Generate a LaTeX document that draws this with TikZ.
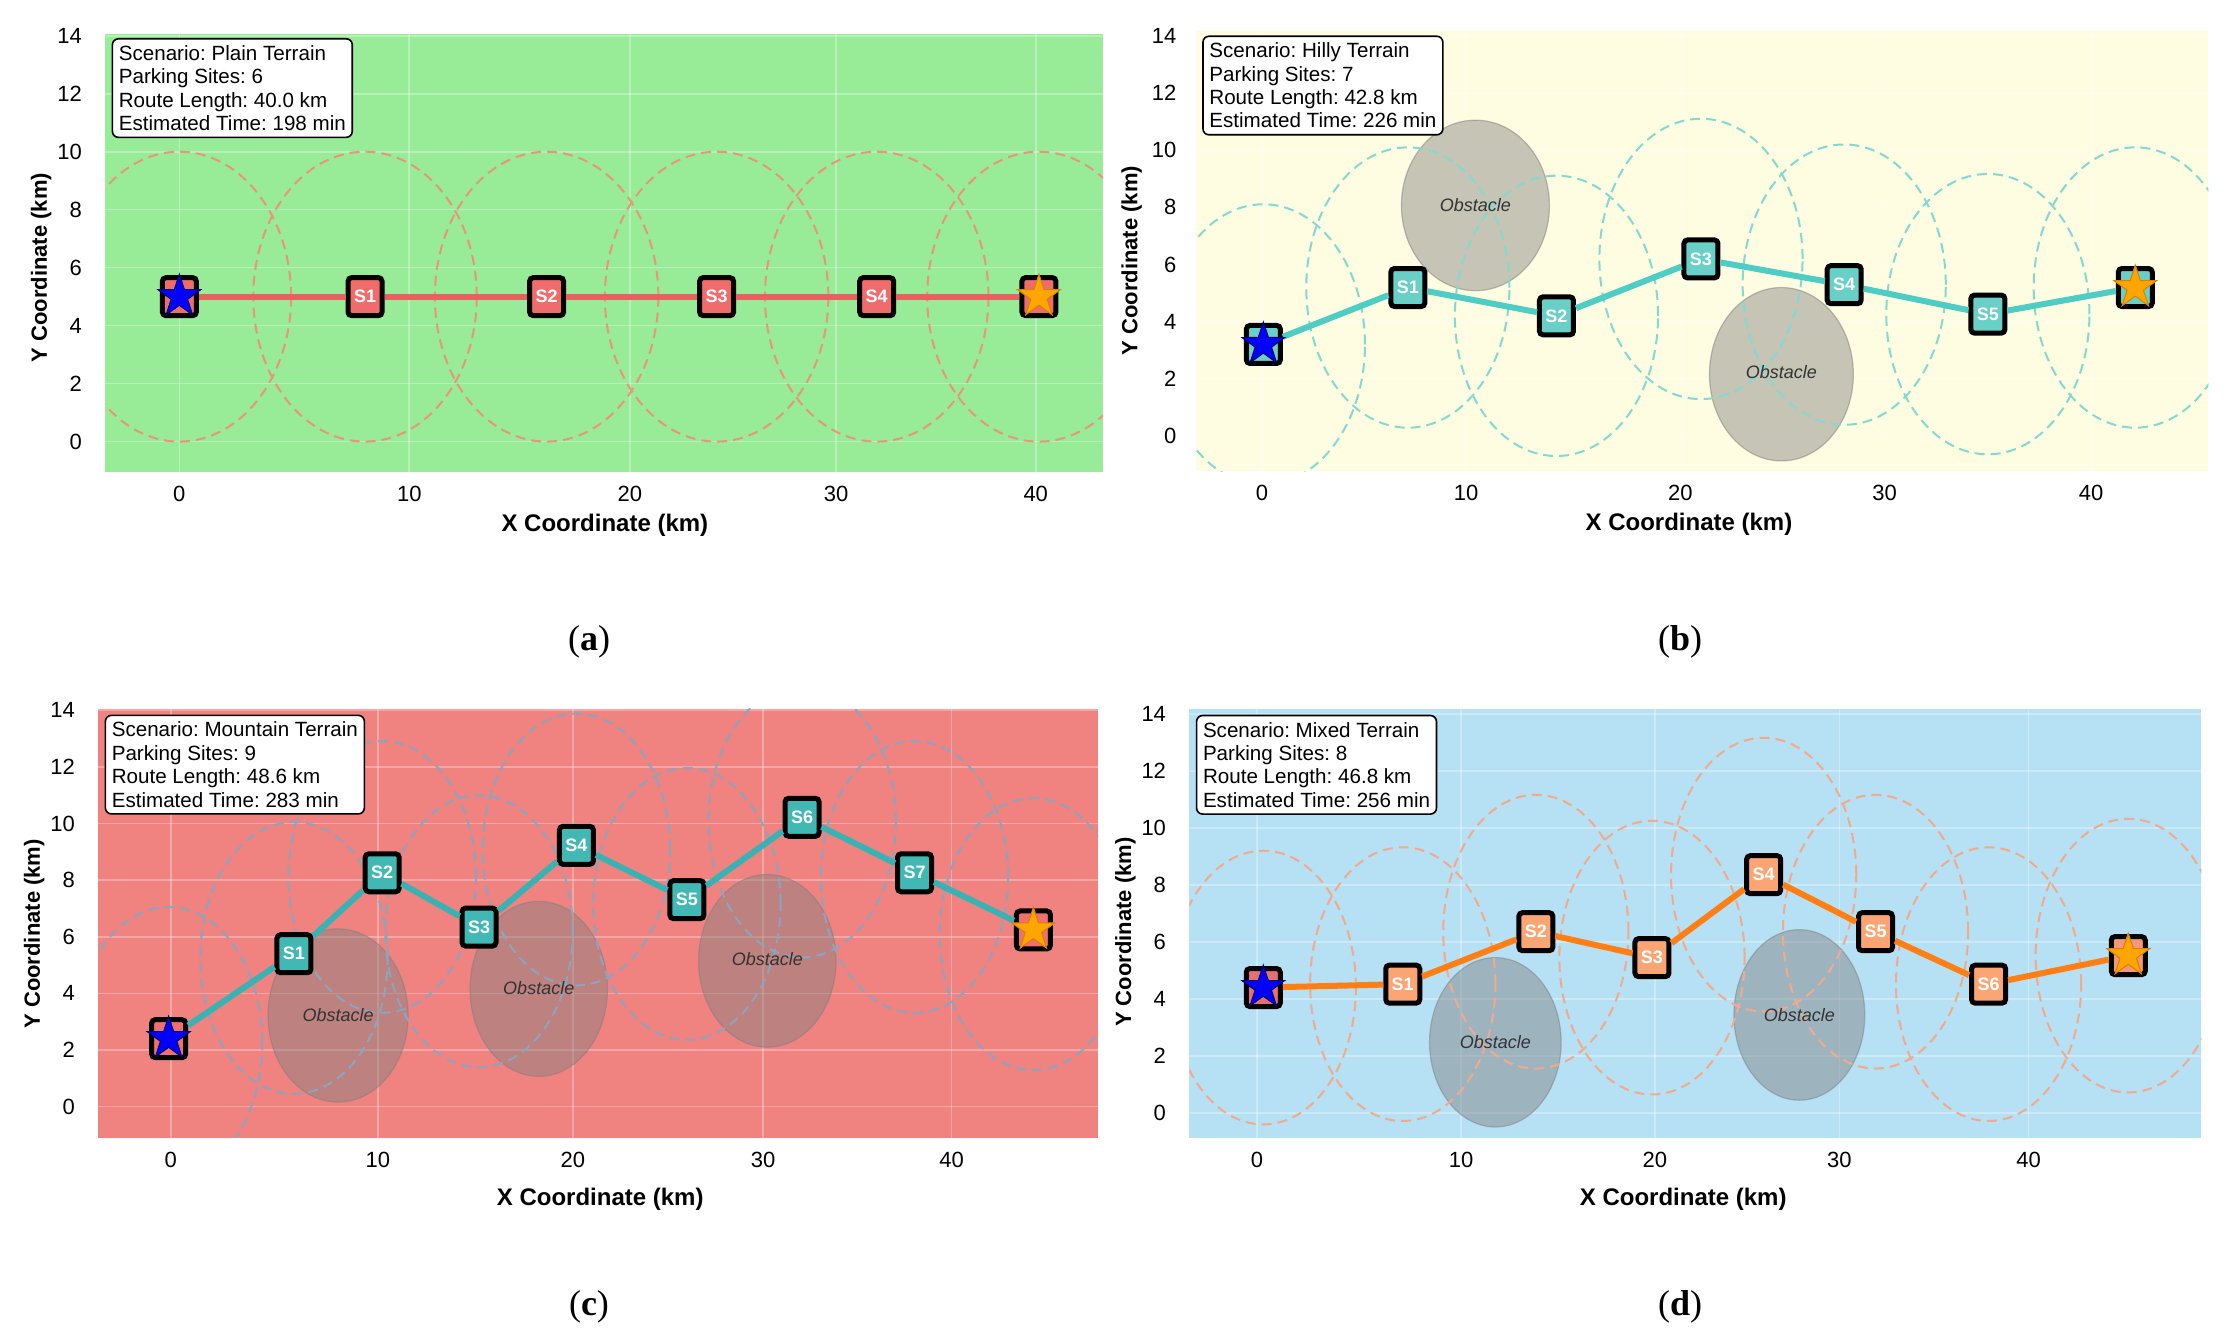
\documentclass[tikz,border=0pt]{standalone}
\usepackage{fontspec}
\setmainfont{Liberation Sans}
\newfontfamily\captionserif{Liberation Serif}
\usetikzlibrary{shapes.geometric}
\frenchspacing

\definecolor{bgPlain}{RGB}{152,236,152}
\definecolor{bgHilly}{RGB}{255,253,225}
\definecolor{bgMountain}{RGB}{240,130,128}
\definecolor{bgMixed}{RGB}{182,224,244}
\definecolor{routePlain}{RGB}{232,96,96}
\definecolor{routeHilly}{RGB}{78,205,196}
\definecolor{routeMountain}{RGB}{56,178,178}
\definecolor{routeMixed}{RGB}{255,127,20}
\definecolor{boxPlain}{RGB}{240,108,108}
\definecolor{boxHilly}{RGB}{104,208,198}
\definecolor{boxMountain}{RGB}{66,184,180}
\definecolor{boxMixed}{RGB}{250,165,115}
\definecolor{ringPlain}{RGB}{232,150,120}
\definecolor{ringHilly}{RGB}{130,218,208}
\definecolor{ringMountain}{RGB}{140,165,190}
\definecolor{ringMixed}{RGB}{242,170,140}
\definecolor{endBoxMountain}{RGB}{240,112,112}
\definecolor{startBoxMixed}{RGB}{230,112,112}
\definecolor{endBoxMixed}{RGB}{245,150,120}
\definecolor{starOrange}{RGB}{255,165,0}
\definecolor{starOrangeEdge}{RGB}{215,130,0}

\tikzset{every picture/.style={line width=0.75pt},
  gridline/.style={draw=white, line width=0.8pt, opacity=0.3},
  rangering/.style={dash pattern=on 5pt off 3pt, line width=1pt},
  obstacle/.style={fill=gray, fill opacity=0.45, draw=gray, draw opacity=0.5, line width=0.6pt},
  obstaclelabel/.style={font=\fontsize{9}{10}\selectfont\itshape, text=black!80},
  site/.style={draw=black, line width=2.5pt, rounded corners=1.8pt, minimum width=17pt, minimum height=19pt, inner sep=0pt, text=white, font=\fontsize{9}{10}\selectfont\bfseries},
  route/.style={line width=3pt, line join=round},
  startstar/.style={star, star points=5, star point ratio=2.6, minimum size=22.5pt, inner sep=0pt, fill=blue, draw=black!60!blue, line width=0.5pt},
  endstar/.style={star, star points=5, star point ratio=2.6, minimum size=22.5pt, inner sep=0pt, fill=starOrange, draw=starOrangeEdge, line width=0.5pt},
  infobox/.style={draw=black, fill=white, rounded corners=3pt, line width=0.8pt, align=left, inner xsep=3.2pt, inner ysep=3.3pt, anchor=north west, xshift=3.2pt, yshift=-2pt, font=\fontsize{10.3}{11.7}\selectfont},
  xtick/.style={font=\fontsize{11}{12}\selectfont, yshift=-11pt},
  ytick/.style={font=\fontsize{11}{12}\selectfont, anchor=east, xshift=-8pt},
  xaxislabel/.style={font=\fontsize{12}{13}\selectfont\bfseries, yshift=-26.5pt},
  yaxislabel/.style={font=\fontsize{11}{12}\selectfont\bfseries, xshift=-32pt, rotate=90},
  panellabel/.style={font=\captionserif\fontsize{18}{20}\selectfont}
}

\begin{document}
\begin{tikzpicture}[x=0.5pt,y=-0.5pt]
	\useasboundingbox (0,0) rectangle (2232,1343);
	\fill[white] (0,0) rectangle (2232,1343);

	%Panel (a): plain terrain
	\begin{scope}[shift={(89.675pt,-220.8pt)}, x=10.745pt, y=14.495pt]
		\fill[bgPlain] (-3.45,-1.05) rectangle (42.98,14.06);
		\foreach \n/\x in {0/0, 1/8.64, 2/17.09, 3/25.0, 4/32.45, 5/40.0}
			\coordinate (a\n) at (\x,5);
		\begin{scope}
			\clip (-3.45,-1.05) rectangle (42.98,14.06);
			\foreach \p in {0,10.7,20.96,30.56,39.85}
				\draw[gridline] (\p,-1.05) -- (\p,14.06);
			\foreach \v in {0,2,...,14}
				\draw[gridline] (-3.45,\v) -- (42.98,\v);
			\foreach \n in {0,...,5}
				\draw[rangering, ringPlain] (a\n) ellipse [x radius=5.2, y radius=5];
		\end{scope}
		% sites and route
		\node[site, fill=boxPlain] (sa0) at (a0) {};
		\foreach \n in {1,...,4}
			\node[site, fill=boxPlain] (sa\n) at (a\n) {S\n};
		\node[site, fill=boxPlain] (sa5) at (a5) {};
		\draw[route, routePlain] (sa0) -- (sa1) -- (sa2) -- (sa3) -- (sa4) -- (sa5);
		\node[startstar] (starta) at (sa0.center) {};
		\node[endstar] (enda) at (sa5.center) {};
		% axes
		\foreach \v/\p in {0/0, 10/10.7, 20/20.96, 30/30.56, 40/39.85}
			\node[xtick] (xta\v) at (\p,-1.05) {\v};
		\foreach \v in {0,2,...,14}
			\node[ytick] (yta\v) at (-3.45,\v) {\v};
		\node[xaxislabel] (xla) at (19.8,-1.05) {X Coordinate (km)};
		\node[yaxislabel] (yla) at (-3.45,6) {Y Coordinate (km)};
		% Text Node
		\node[infobox] (infoa) at (-3.45,14.06) {Scenario: Plain Terrain\\Parking Sites: 6\\Route Length: 40.0 km\\Estimated Time: 198 min};
	\end{scope}

	%Panel (b): hilly terrain
	\begin{scope}[shift={(630.95pt,-218.15pt)}, x=10.365pt, y=14.305pt]
		\fill[bgHilly] (-3.19,-1.22) rectangle (45.66,14.15);
		\foreach \n/\x/\y in {0/0.07/3.21, 1/7.04/5.20, 2/14.21/4.21, 3/21.18/6.20, 4/28.09/5.30, 5/35.02/4.27, 6/42.13/5.20}
			\coordinate (b\n) at (\x,\y);
		\begin{scope}
			\clip (-3.19,-1.22) rectangle (45.66,14.15);
			\foreach \p in {0,9.85,20.19,30.04,40}
				\draw[gridline] (\p,-1.22) -- (\p,14.15);
			\foreach \v in {0,2,...,14}
				\draw[gridline] (-3.19,\v) -- (45.66,\v);
			\draw[obstacle] (10.30,8.07) ellipse [x radius=3.57, y radius=2.98];
			\draw[obstacle] (25.06,2.17) ellipse [x radius=3.47, y radius=3.03];
			\foreach \n in {0,...,6}
				\draw[rangering, ringHilly] (b\n) ellipse [x radius=4.9, y radius=4.9];
			\node[obstaclelabel] (obb1) at (10.30,8.07) {Obstacle};
			\node[obstaclelabel] (obb2) at (25.06,2.25) {Obstacle};
		\end{scope}
		% sites and route
		\node[site, fill=boxHilly] (sb0) at (b0) {};
		\foreach \n in {1,...,5}
			\node[site, fill=boxHilly] (sb\n) at (b\n) {S\n};
		\node[site, fill=boxHilly] (sb6) at (b6) {};
		\draw[route, routeHilly] (sb0) -- (sb1) -- (sb2) -- (sb3) -- (sb4) -- (sb5) -- (sb6);
		\node[startstar] (startb) at (sb0.center) {};
		\node[endstar] (endb) at (sb6.center) {};
		% axes
		\foreach \v/\p in {0/0, 10/9.85, 20/20.19, 30/30.04, 40/40}
			\node[xtick] (xtb\v) at (\p,-1.22) {\v};
		\foreach \v in {0,2,...,14}
			\node[ytick, xshift=2pt] (ytb\v) at (-3.19,\v) {\v};
		\node[xaxislabel] (xlb) at (20.6,-1.22) {X Coordinate (km)};
		\node[yaxislabel, xshift=2pt] (ylb) at (-3.19,6) {Y Coordinate (km)};
		% Text Node
		\node[infobox] (infob) at (-3.19,14.15) {Scenario: Hilly Terrain\\Parking Sites: 7\\Route Length: 42.8 km\\Estimated Time: 226 min};
	\end{scope}

	%Panel (c): mountain terrain
	\begin{scope}[shift={(85.4pt,-553.3pt)}, x=9.76pt, y=14.155pt]
		\fill[bgMountain] (-3.72,-1.10) rectangle (47.51,14.06);
		\foreach \n/\x/\y in {0/-0.11/2.40, 1/6.31/5.40, 2/10.83/8.26, 3/15.79/6.34, 4/20.78/9.23, 5/26.44/7.31, 6/32.34/10.22, 7/38.1/8.26, 8/44.19/6.24}
			\coordinate (c\n) at (\x,\y);
		\begin{scope}
			\clip (-3.72,-1.10) rectangle (47.51,14.06);
			\foreach \p in {0,10.61,20.6,30.34,40}
				\draw[gridline] (\p,-1.10) -- (\p,14.06);
			\foreach \v in {0,2,...,14}
				\draw[gridline] (-3.72,\v) -- (47.51,\v);
			\draw[obstacle] (8.57,3.22) ellipse [x radius=3.59, y radius=3.06];
			\draw[obstacle] (18.85,4.16) ellipse [x radius=3.52, y radius=3.09];
			\draw[obstacle] (30.56,5.15) ellipse [x radius=3.52, y radius=3.05];
			\foreach \n in {0,...,8}
				\draw[rangering, ringMountain] ([yshift=-2.1pt]c\n) ellipse [x radius=4.8, y radius=4.8];
			\node[obstaclelabel] (obc1) at (8.57,3.22) {Obstacle};
			\node[obstaclelabel] (obc2) at (18.85,4.2) {Obstacle};
			\node[obstaclelabel] (obc3) at (30.56,5.2) {Obstacle};
		\end{scope}
		% sites and route
		\node[site, fill=endBoxMountain] (sc0) at (c0) {};
		\foreach \n in {1,...,7}
			\node[site, fill=boxMountain] (sc\n) at (c\n) {S\n};
		\node[site, fill=endBoxMountain] (sc8) at (c8) {};
		\draw[route, routeMountain] (sc0) -- (sc1) -- (sc2) -- (sc3) -- (sc4) -- (sc5) -- (sc6) -- (sc7) -- (sc8);
		\node[startstar] (startc) at (sc0.center) {};
		\node[endstar] (endc) at (sc8.center) {};
		% axes
		\foreach \v/\p in {0/0, 10/10.61, 20/20.6, 30/30.34, 40/40}
			\node[xtick] (xtc\v) at (\p,-1.10) {\v};
		\foreach \v in {0,2,...,14}
			\node[ytick] (ytc\v) at (-3.72,\v) {\v};
		\node[xaxislabel, yshift=-4.3pt] (xlc) at (22.0,-1.10) {X Coordinate (km)};
		\node[yaxislabel] (ylc) at (-3.72,6.1) {Y Coordinate (km)};
		% Text Node
		\node[infobox, yshift=-1pt] (infoc) at (-3.72,14.06) {Scenario: Mountain Terrain\\Parking Sites: 9\\Route Length: 48.6 km\\Estimated Time: 283 min};
	\end{scope}

	%Panel (d): mixed terrain
	\begin{scope}[shift={(628.45pt,-556.5pt)}, x=9.645pt, y=14.255pt]
		\fill[bgMixed] (-3.50,-0.88) rectangle (48.96,14.18);
		\foreach \n/\x/\y in {0/0.33/4.40, 1/7.56/4.52, 2/14.46/6.36, 3/20.48/5.45, 4/26.27/8.36, 5/32.07/6.36, 6/37.93/4.52, 7/45.17/5.52}
			\coordinate (d\n) at (\x,\y);
		\begin{scope}
			\clip (-3.50,-0.88) rectangle (48.96,14.18);
			\foreach \p in {0,10.59,20.63,30.2,40}
				\draw[gridline] (\p,-0.88) -- (\p,14.18);
			\foreach \v in {0,2,...,14}
				\draw[gridline] (-3.50,\v) -- (48.96,\v);
			\draw[obstacle] (12.36,2.48) ellipse [x radius=3.41, y radius=2.97];
			\draw[obstacle] (28.12,3.44) ellipse [x radius=3.39, y radius=2.99];
			\foreach \n in {0,...,7}
				\draw[rangering, ringMixed] (d\n) ellipse [x radius=4.8, y radius=4.8];
			\node[obstaclelabel] (obd1) at (12.36,2.5) {Obstacle};
			\node[obstaclelabel] (obd2) at (28.12,3.44) {Obstacle};
		\end{scope}
		% sites and route
		\node[site, fill=startBoxMixed] (sd0) at (d0) {};
		\foreach \n in {1,...,6}
			\node[site, fill=boxMixed] (sd\n) at (d\n) {S\n};
		\node[site, fill=endBoxMixed] (sd7) at (d7) {};
		\draw[route, routeMixed] (sd0) -- (sd1) -- (sd2) -- (sd3) -- (sd4) -- (sd5) -- (sd6) -- (sd7);
		\node[startstar] (startd) at (sd0.center) {};
		\node[endstar] (endd) at (sd7.center) {};
		% axes
		\foreach \v/\p in {0/0, 10/10.59, 20/20.63, 30/30.2, 40/40}
			\node[xtick] (xtd\v) at (\p,-0.88) {\v};
		\foreach \v in {0,2,...,14}
			\node[ytick] (ytd\v) at (-3.50,\v) {\v};
		\node[xaxislabel, yshift=-4.2pt] (xld) at (22.1,-0.88) {X Coordinate (km)};
		\node[yaxislabel, xshift=2pt] (yld) at (-3.50,6.2) {Y Coordinate (km)};
		% Text Node
		\node[infobox, yshift=-1pt] (infod) at (-3.50,14.18) {Scenario: Mixed Terrain\\Parking Sites: 8\\Route Length: 46.8 km\\Estimated Time: 256 min};
	\end{scope}

	% Text Node
	\node[panellabel] (capa) at (589,642) {(\textbf{a})};
	\node[panellabel] (capb) at (1680,642) {(\textbf{b})};
	\node[panellabel] (capc) at (589,1307) {(\textbf{c})};
	\node[panellabel] (capd) at (1680,1307) {(\textbf{d})};
\end{tikzpicture}
\end{document}
